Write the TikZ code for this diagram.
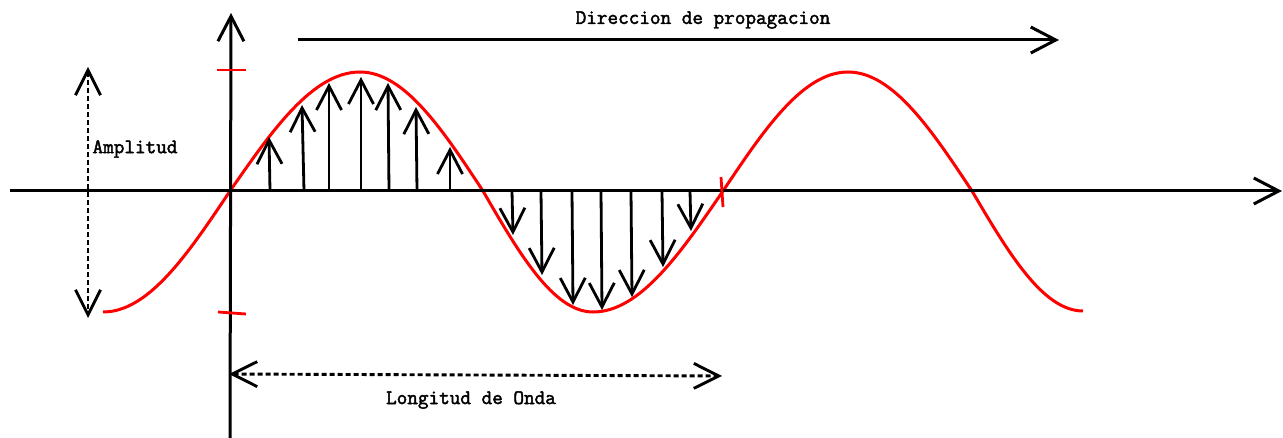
\documentclass[tikz,border=0pt]{standalone}
\usepackage{fontspec}
\newfontfamily\lblfont[FakeBold=2.2]{Latin Modern Mono}
\usetikzlibrary{arrows.meta}
\begin{document}
\begin{tikzpicture}[x=1pt,y=-1pt,
  axis/.style={line width=3pt,-{Straight Barb[length=25pt,width=26pt]}},
  vec/.style={line width=2.8pt,-{Straight Barb[length=24pt,width=25pt]}},
  dimline/.style={line width=2.9pt,dash pattern=on 5pt off 3pt,
    {Straight Barb[length=25pt,width=25pt]}-{Straight Barb[length=25pt,width=25pt]}},
  wave/.style={red,line width=3pt},
  redtick/.style={red,line width=2.8pt},
  lbl/.style={font=\lblfont\fontsize{20.6}{24}\selectfont,inner sep=0pt}]
\useasboundingbox (0,0) rectangle (1283,438);
% coordinates
\coordinate (xs) at (10,191);
\coordinate (xe) at (1282,191);
\coordinate (ys) at (230,438);
\coordinate (ye) at (231,13);
\coordinate (ds) at (298,40);
\coordinate (de) at (1059,40);
\coordinate (as) at (88,67);
\coordinate (ae) at (88,318);
\coordinate (ls) at (229,374);
\coordinate (le) at (722,376);
% wave
\draw[wave] (103,312) cos (230,191) sin (360,72) cos (483,191) sin (593,312)
  cos (723,191) sin (848,72) cos (972,191) sin (1083,311);
% axes
\draw[axis] (xs) -- (xe);
\draw[axis] (ys) -- (ye);
\draw[axis] (ds) -- (de);
% red ticks
\draw[redtick] (217,70) -- (246,70);
\draw[redtick] (218,312) -- (246,314);
\draw[redtick] (721,177) -- (723,207);
% vectors
\foreach \bx/\tx/\ty in {270/269/137, 304/302/105, 329/329/83, 361/361/77,
  389/388/83, 417/416/107, 450/450/147,
  512/513/235, 541/542/275, 572/573/305, 601/602/310, 631/632/297,
  662/663/267, 690/691/231}
  \draw[vec] (\bx,191) -- (\tx,\ty);
% dimension arrows
\draw[dimline] (as) -- (ae);
\draw[dimline] (ls) -- (le);
% labels
\node[lbl] (amp) at (135,149) {Amplitud};
\node[lbl] (lon) at (471,400) {Longitud de Onda};
\node[lbl] (dir) at (703,20) {Direccion de propagacion};
\end{tikzpicture}
\end{document}
